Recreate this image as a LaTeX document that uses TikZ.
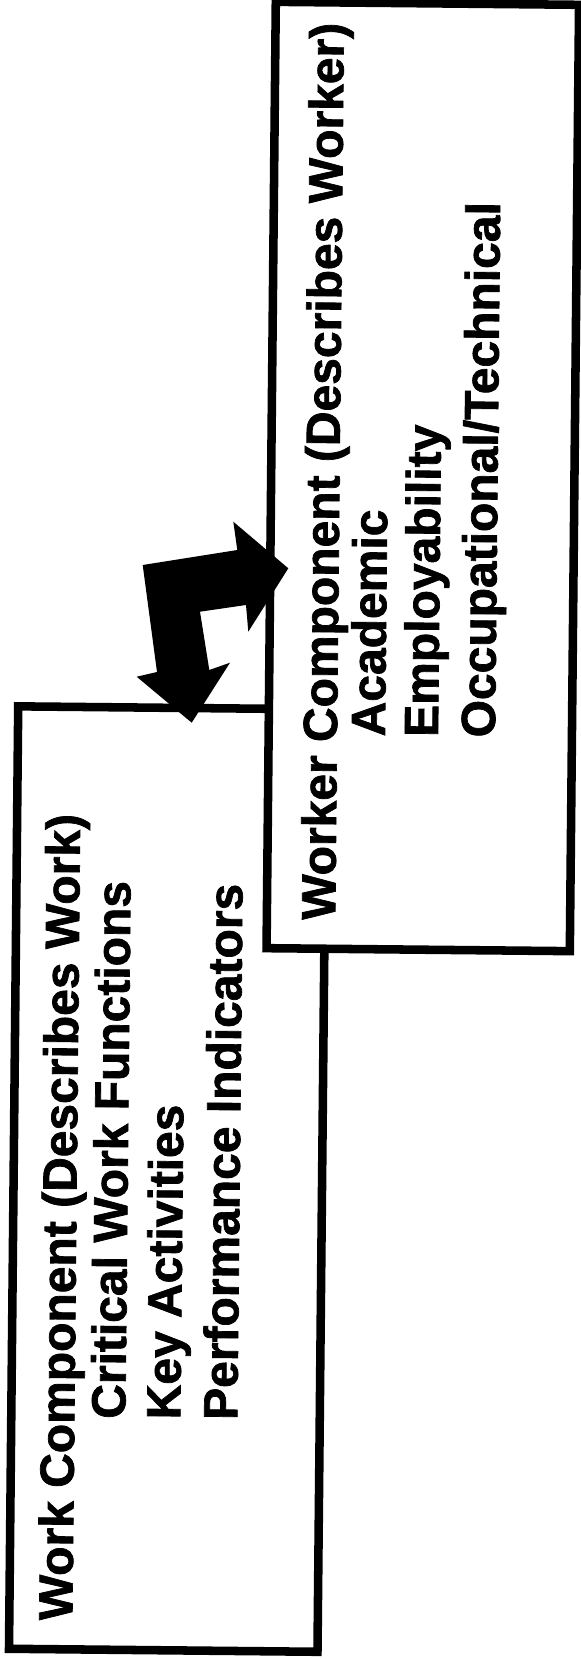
\documentclass[tikz,border=0pt]{standalone}
\usepackage{fontspec}
\setmainfont[BoldFeatures={FakeBold=1.5}]{Liberation Sans}

\tikzset{every picture/.style={line width=0.75pt}}
\tikzset{
  compbox/.style={line width=6.4},
  comptext/.style={anchor=base west, inner sep=0pt, rotate=89.44,
    font=\fontsize{36}{43}\selectfont\bfseries}
}

\begin{document}
\begin{tikzpicture}[x=0.75pt,y=0.75pt,yscale=-1,xscale=1]
\useasboundingbox (0,0) rectangle (581,1659);

\begin{scope}[rotate around={0.56:(290,830)}]
%Shape: Rectangle [work box]
\draw [compbox]   (17,709) -- (325.5,709) -- (325.5,1651.5) -- (17,1651.5) -- cycle ;
%Shape: Rectangle [worker box]
\draw [compbox, fill=white]   (267.7,2) -- (571,2) -- (571,948.4) -- (267.7,948.4) -- cycle ;

% Text Node
\draw (80,1623) node [comptext] (worktitle) {Work Component (Describes Work)};
% Text Node
\draw (131,1421) node [comptext] (workfunctions) {Critical Work Functions};
% Text Node
\draw (186,1421) node [comptext] (workactivities) {Key Activities};
% Text Node
\draw (243,1421) node [comptext] (workindicators) {Performance Indicators};
% Text Node
\draw (336,920) node [comptext] (workertitle) {Worker Component (Describes Worker)};
% Text Node
\draw (384,736) node [comptext] (workeracademic) {Academic};
% Text Node
\draw (437,736) node [comptext] (workeremploy) {Employability};
% Text Node
\draw (494,736) node [comptext] (workertech) {Occupational/Technical};
\end{scope}

%Shape: Bent Double Arrow
\draw [draw opacity=0][fill=black] (142.7,565) -- (237.3,550) -- (233.3,521.7) -- (288.3,568.3) -- (248.3,631.7) -- (246,605) -- (200,611.7) -- (209.3,670) -- (230,662.7) -- (191.7,722.7) -- (136.7,676.7) -- (157,672) -- cycle ;

\end{tikzpicture}
\end{document}
